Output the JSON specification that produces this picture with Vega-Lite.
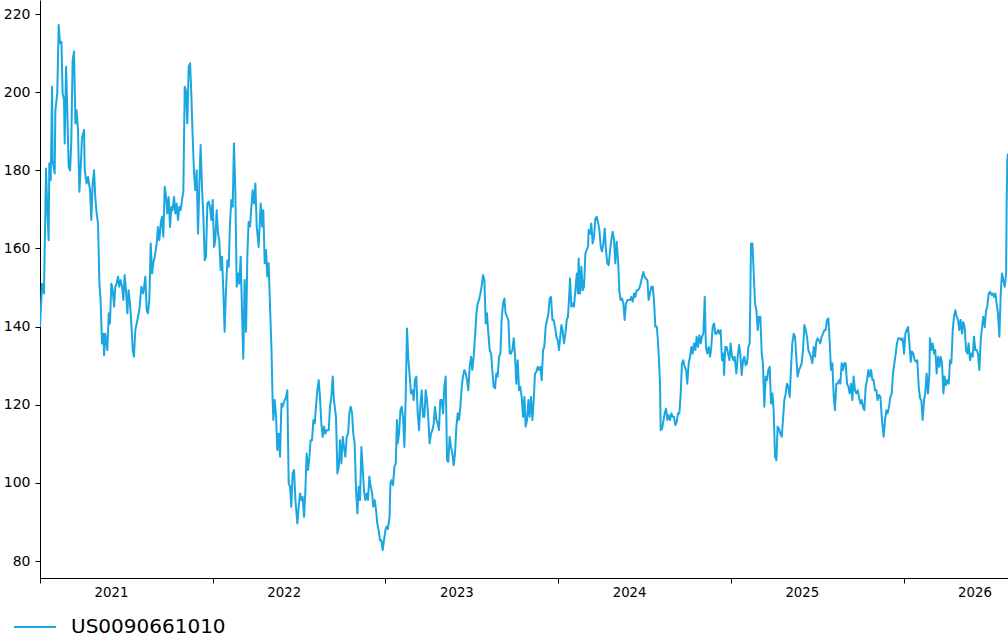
{
  "$schema": "https://vega.github.io/schema/vega-lite/v6.json",
  "width": 968,
  "height": 578,
  "autosize": {"type": "none"},
  "padding": {"left": 40, "top": 0, "right": 0, "bottom": 66},
  "background": "white",
  "config": {
    "view": {"stroke": null},
    "font": "DejaVu Sans",
    "axis": {"labelFont": "DejaVu Sans", "labelFontSize": 13.3, "labelColor": "black", "domainColor": "black", "tickColor": "black", "domainWidth": 1, "tickWidth": 1, "tickSize": 5, "grid": false, "title": null},
    "legend": {"labelFont": "DejaVu Sans", "labelColor": "black"}
  },
  "data": {"values": [
    {"t":2021.000,"v":139.9},{"t":2021.012,"v":151.0},{"t":2021.023,"v":148.5},{"t":2021.031,"v":169.8},{"t":2021.035,"v":180.5},{"t":2021.042,"v":169.8},{"t":2021.050,"v":162.1},{"t":2021.054,"v":181.8},{"t":2021.062,"v":177.5},{"t":2021.070,"v":201.4},{"t":2021.073,"v":182.6},{"t":2021.085,"v":179.2},{"t":2021.089,"v":195.4},{"t":2021.100,"v":199.7},{"t":2021.108,"v":217.2},{"t":2021.116,"v":212.5},{"t":2021.124,"v":212.9},{"t":2021.131,"v":199.7},{"t":2021.139,"v":198.0},{"t":2021.143,"v":186.9},{"t":2021.151,"v":206.5},{"t":2021.158,"v":195.4},{"t":2021.166,"v":180.9},{"t":2021.174,"v":180.0},{"t":2021.181,"v":186.9},{"t":2021.189,"v":208.2},{"t":2021.197,"v":210.4},{"t":2021.205,"v":192.0},{"t":2021.212,"v":195.4},{"t":2021.220,"v":190.3},{"t":2021.228,"v":174.5},{"t":2021.236,"v":180.9},{"t":2021.243,"v":188.2},{"t":2021.255,"v":190.3},{"t":2021.259,"v":180.0},{"t":2021.270,"v":176.6},{"t":2021.278,"v":178.3},{"t":2021.290,"v":174.9},{"t":2021.297,"v":167.3},{"t":2021.305,"v":176.6},{"t":2021.313,"v":180.0},{"t":2021.320,"v":173.2},{"t":2021.328,"v":169.0},{"t":2021.336,"v":166.4},{"t":2021.344,"v":151.0},{"t":2021.351,"v":146.8},{"t":2021.359,"v":135.7},{"t":2021.367,"v":138.2},{"t":2021.371,"v":132.7},{"t":2021.378,"v":138.2},{"t":2021.390,"v":134.0},{"t":2021.398,"v":143.4},{"t":2021.405,"v":140.8},{"t":2021.413,"v":151.0},{"t":2021.421,"v":149.3},{"t":2021.429,"v":145.1},{"t":2021.436,"v":150.2},{"t":2021.444,"v":151.0},{"t":2021.452,"v":152.8},{"t":2021.459,"v":150.2},{"t":2021.467,"v":151.9},{"t":2021.475,"v":150.2},{"t":2021.483,"v":146.8},{"t":2021.490,"v":153.2},{"t":2021.498,"v":149.3},{"t":2021.506,"v":143.4},{"t":2021.513,"v":149.3},{"t":2021.521,"v":145.9},{"t":2021.529,"v":140.8},{"t":2021.537,"v":134.0},{"t":2021.544,"v":132.3},{"t":2021.552,"v":139.1},{"t":2021.564,"v":141.7},{"t":2021.575,"v":144.2},{"t":2021.587,"v":150.2},{"t":2021.598,"v":148.5},{"t":2021.610,"v":152.8},{"t":2021.618,"v":144.2},{"t":2021.625,"v":143.4},{"t":2021.633,"v":146.8},{"t":2021.641,"v":161.3},{"t":2021.649,"v":153.6},{"t":2021.656,"v":156.2},{"t":2021.664,"v":157.9},{"t":2021.676,"v":161.3},{"t":2021.683,"v":165.5},{"t":2021.691,"v":162.1},{"t":2021.699,"v":166.4},{"t":2021.706,"v":168.1},{"t":2021.714,"v":163.0},{"t":2021.722,"v":175.8},{"t":2021.730,"v":173.2},{"t":2021.737,"v":169.0},{"t":2021.745,"v":173.2},{"t":2021.753,"v":165.5},{"t":2021.761,"v":170.7},{"t":2021.768,"v":169.8},{"t":2021.776,"v":173.2},{"t":2021.784,"v":169.0},{"t":2021.791,"v":171.5},{"t":2021.799,"v":167.3},{"t":2021.807,"v":170.7},{"t":2021.815,"v":169.8},{"t":2021.822,"v":172.4},{"t":2021.830,"v":174.5},{"t":2021.838,"v":201.4},{"t":2021.845,"v":200.5},{"t":2021.853,"v":192.0},{"t":2021.861,"v":206.5},{"t":2021.869,"v":207.4},{"t":2021.876,"v":199.7},{"t":2021.884,"v":188.6},{"t":2021.892,"v":179.2},{"t":2021.899,"v":174.9},{"t":2021.907,"v":180.0},{"t":2021.915,"v":163.8},{"t":2021.923,"v":176.6},{"t":2021.930,"v":186.5},{"t":2021.938,"v":175.8},{"t":2021.946,"v":168.1},{"t":2021.954,"v":157.0},{"t":2021.961,"v":157.9},{"t":2021.969,"v":171.5},{"t":2021.977,"v":172.0},
    {"t":2021.984,"v":170.7},{"t":2021.992,"v":167.3},{"t":2022.000,"v":172.4},{"t":2022.008,"v":160.4},{"t":2022.015,"v":162.1},{"t":2022.023,"v":169.8},{"t":2022.031,"v":163.8},{"t":2022.038,"v":162.1},{"t":2022.046,"v":154.5},{"t":2022.054,"v":157.9},{"t":2022.062,"v":148.5},{"t":2022.069,"v":138.7},{"t":2022.077,"v":149.3},{"t":2022.085,"v":157.0},{"t":2022.093,"v":155.3},{"t":2022.100,"v":166.4},{"t":2022.108,"v":172.4},{"t":2022.116,"v":170.7},{"t":2022.123,"v":186.9},{"t":2022.131,"v":174.9},{"t":2022.139,"v":150.2},{"t":2022.147,"v":153.6},{"t":2022.154,"v":151.0},{"t":2022.162,"v":157.9},{"t":2022.170,"v":143.4},{"t":2022.177,"v":131.8},{"t":2022.185,"v":151.9},{"t":2022.193,"v":138.7},{"t":2022.201,"v":158.7},{"t":2022.208,"v":166.8},{"t":2022.216,"v":165.6},{"t":2022.224,"v":170.7},{"t":2022.231,"v":174.9},{"t":2022.239,"v":171.5},{"t":2022.247,"v":176.6},{"t":2022.255,"v":165.6},{"t":2022.266,"v":160.4},{"t":2022.278,"v":171.5},{"t":2022.286,"v":165.6},{"t":2022.293,"v":169.8},{"t":2022.301,"v":156.2},{"t":2022.309,"v":159.6},{"t":2022.316,"v":152.8},{"t":2022.324,"v":156.2},{"t":2022.332,"v":145.1},{"t":2022.340,"v":134.8},{"t":2022.347,"v":121.2},{"t":2022.351,"v":116.1},{"t":2022.359,"v":121.2},{"t":2022.367,"v":116.9},{"t":2022.374,"v":108.4},{"t":2022.382,"v":112.6},{"t":2022.390,"v":106.7},{"t":2022.398,"v":120.3},{"t":2022.405,"v":119.5},{"t":2022.417,"v":121.2},{"t":2022.425,"v":122.0},{"t":2022.432,"v":123.7},{"t":2022.440,"v":99.8},{"t":2022.448,"v":99.0},{"t":2022.455,"v":93.9},{"t":2022.463,"v":102.4},{"t":2022.471,"v":103.3},{"t":2022.479,"v":95.6},{"t":2022.490,"v":89.6},{"t":2022.498,"v":93.9},{"t":2022.506,"v":97.3},{"t":2022.513,"v":95.6},{"t":2022.521,"v":96.4},{"t":2022.529,"v":91.3},{"t":2022.536,"v":97.3},{"t":2022.544,"v":107.5},{"t":2022.552,"v":103.3},{"t":2022.560,"v":106.7},{"t":2022.567,"v":110.9},{"t":2022.575,"v":110.9},{"t":2022.583,"v":116.1},{"t":2022.591,"v":115.2},{"t":2022.598,"v":119.5},{"t":2022.606,"v":123.7},{"t":2022.614,"v":126.3},{"t":2022.621,"v":122.0},{"t":2022.629,"v":115.2},{"t":2022.637,"v":111.8},{"t":2022.645,"v":114.4},{"t":2022.652,"v":112.6},{"t":2022.660,"v":113.5},{"t":2022.672,"v":113.5},{"t":2022.679,"v":119.5},{"t":2022.687,"v":122.0},{"t":2022.695,"v":127.2},{"t":2022.702,"v":121.2},{"t":2022.714,"v":116.9},{"t":2022.722,"v":102.4},{"t":2022.730,"v":104.1},{"t":2022.737,"v":110.9},{"t":2022.745,"v":105.0},{"t":2022.753,"v":111.8},{"t":2022.760,"v":109.2},{"t":2022.768,"v":106.7},{"t":2022.776,"v":111.8},{"t":2022.784,"v":112.6},{"t":2022.791,"v":117.8},{"t":2022.799,"v":119.5},{"t":2022.807,"v":117.8},{"t":2022.814,"v":112.6},{"t":2022.822,"v":110.1},{"t":2022.830,"v":98.1},{"t":2022.838,"v":92.2},{"t":2022.845,"v":99.0},{"t":2022.853,"v":95.6},{"t":2022.861,"v":109.2},{"t":2022.868,"v":104.1},{"t":2022.876,"v":98.1},{"t":2022.884,"v":95.6},{"t":2022.892,"v":97.3},{"t":2022.899,"v":95.6},{"t":2022.907,"v":101.6},{"t":2022.915,"v":99.0},{"t":2022.923,"v":97.3},{"t":2022.930,"v":93.9},{"t":2022.938,"v":95.6},{"t":2022.946,"v":93.0},{"t":2022.953,"v":89.6},{"t":2022.961,"v":87.9},{"t":2022.969,"v":85.3},{"t":2022.977,"v":85.3},{"t":2022.984,"v":82.8},{"t":2022.992,"v":85.3},{"t":2023.000,"v":87.9},{"t":2023.007,"v":88.8},{"t":2023.015,"v":88.2},{"t":2023.024,"v":91.3},
    {"t":2023.029,"v":99.8},{"t":2023.036,"v":100.7},{"t":2023.044,"v":99.4},{"t":2023.052,"v":104.1},{"t":2023.060,"v":105.0},{"t":2023.067,"v":116.1},{"t":2023.071,"v":110.1},{"t":2023.079,"v":112.6},{"t":2023.087,"v":118.6},{"t":2023.094,"v":119.5},{"t":2023.102,"v":116.9},{"t":2023.110,"v":109.2},{"t":2023.117,"v":121.2},{"t":2023.125,"v":139.5},{"t":2023.133,"v":131.4},{"t":2023.141,"v":127.2},{"t":2023.148,"v":122.9},{"t":2023.156,"v":123.7},{"t":2023.164,"v":121.2},{"t":2023.171,"v":126.3},{"t":2023.179,"v":127.2},{"t":2023.187,"v":117.8},{"t":2023.195,"v":113.5},{"t":2023.202,"v":119.5},{"t":2023.210,"v":123.7},{"t":2023.218,"v":116.9},{"t":2023.226,"v":116.9},{"t":2023.233,"v":123.7},{"t":2023.241,"v":121.2},{"t":2023.249,"v":116.1},{"t":2023.256,"v":110.1},{"t":2023.264,"v":112.6},{"t":2023.272,"v":113.5},{"t":2023.280,"v":115.2},{"t":2023.287,"v":119.5},{"t":2023.295,"v":116.1},{"t":2023.303,"v":115.2},{"t":2023.310,"v":113.5},{"t":2023.318,"v":121.2},{"t":2023.326,"v":121.2},{"t":2023.334,"v":117.8},{"t":2023.341,"v":124.6},{"t":2023.349,"v":127.2},{"t":2023.357,"v":105.8},{"t":2023.364,"v":105.4},{"t":2023.372,"v":111.8},{"t":2023.380,"v":109.2},{"t":2023.388,"v":107.5},{"t":2023.395,"v":104.5},{"t":2023.403,"v":107.5},{"t":2023.411,"v":114.4},{"t":2023.419,"v":117.8},{"t":2023.426,"v":116.1},{"t":2023.434,"v":119.5},{"t":2023.442,"v":124.6},{"t":2023.449,"v":127.2},{"t":2023.457,"v":128.9},{"t":2023.465,"v":128.0},{"t":2023.473,"v":126.3},{"t":2023.480,"v":123.7},{"t":2023.488,"v":129.7},{"t":2023.496,"v":132.3},{"t":2023.503,"v":128.9},{"t":2023.511,"v":132.3},{"t":2023.519,"v":137.4},{"t":2023.527,"v":143.4},{"t":2023.534,"v":145.9},{"t":2023.542,"v":146.8},{"t":2023.550,"v":148.5},{"t":2023.557,"v":150.2},{"t":2023.565,"v":153.2},{"t":2023.573,"v":151.9},{"t":2023.581,"v":140.8},{"t":2023.588,"v":143.4},{"t":2023.596,"v":138.2},{"t":2023.604,"v":134.0},{"t":2023.612,"v":133.1},{"t":2023.619,"v":128.9},{"t":2023.627,"v":124.6},{"t":2023.635,"v":124.2},{"t":2023.642,"v":128.0},{"t":2023.650,"v":127.2},{"t":2023.658,"v":132.3},{"t":2023.666,"v":133.1},{"t":2023.673,"v":141.7},{"t":2023.681,"v":145.9},{"t":2023.689,"v":147.2},{"t":2023.696,"v":143.4},{"t":2023.704,"v":142.5},{"t":2023.712,"v":141.7},{"t":2023.720,"v":133.1},{"t":2023.727,"v":133.1},{"t":2023.735,"v":134.0},{"t":2023.743,"v":137.0},{"t":2023.750,"v":133.1},{"t":2023.758,"v":125.4},{"t":2023.766,"v":131.4},{"t":2023.774,"v":123.7},{"t":2023.781,"v":124.6},{"t":2023.789,"v":122.0},{"t":2023.797,"v":116.9},{"t":2023.805,"v":122.0},{"t":2023.812,"v":114.4},{"t":2023.820,"v":116.1},{"t":2023.828,"v":121.2},{"t":2023.835,"v":116.9},{"t":2023.843,"v":122.0},{"t":2023.851,"v":116.1},{"t":2023.859,"v":121.2},{"t":2023.866,"v":128.0},{"t":2023.874,"v":128.4},{"t":2023.882,"v":129.7},{"t":2023.889,"v":128.9},{"t":2023.897,"v":129.7},{"t":2023.905,"v":126.3},{"t":2023.913,"v":134.0},{"t":2023.920,"v":134.8},{"t":2023.928,"v":140.0},{"t":2023.936,"v":141.7},{"t":2023.944,"v":143.4},{"t":2023.951,"v":147.2},{"t":2023.959,"v":147.6},{"t":2023.967,"v":141.7},{"t":2023.974,"v":141.7},{"t":2023.982,"v":140.0},{"t":2023.990,"v":137.4},{"t":2023.998,"v":136.5},{"t":2024.005,"v":134.0},
    {"t":2024.019,"v":140.4},{"t":2024.026,"v":139.1},{"t":2024.034,"v":135.7},{"t":2024.042,"v":138.2},{"t":2024.050,"v":141.7},{"t":2024.057,"v":142.5},{"t":2024.065,"v":148.5},{"t":2024.069,"v":152.3},{"t":2024.077,"v":145.1},{"t":2024.084,"v":145.9},{"t":2024.092,"v":145.1},{"t":2024.100,"v":149.3},{"t":2024.108,"v":153.6},{"t":2024.115,"v":148.5},{"t":2024.119,"v":157.4},{"t":2024.127,"v":148.5},{"t":2024.135,"v":155.3},{"t":2024.142,"v":149.3},{"t":2024.150,"v":150.2},{"t":2024.158,"v":158.7},{"t":2024.165,"v":159.6},{"t":2024.173,"v":160.4},{"t":2024.177,"v":164.7},{"t":2024.185,"v":163.8},{"t":2024.192,"v":166.4},{"t":2024.200,"v":161.3},{"t":2024.208,"v":163.0},{"t":2024.216,"v":167.7},{"t":2024.223,"v":168.1},{"t":2024.231,"v":166.8},{"t":2024.239,"v":164.7},{"t":2024.247,"v":160.4},{"t":2024.254,"v":159.2},{"t":2024.262,"v":161.3},{"t":2024.270,"v":165.1},{"t":2024.277,"v":159.6},{"t":2024.285,"v":156.2},{"t":2024.293,"v":155.7},{"t":2024.301,"v":159.6},{"t":2024.308,"v":162.1},{"t":2024.316,"v":164.3},{"t":2024.324,"v":162.1},{"t":2024.331,"v":156.2},{"t":2024.339,"v":161.7},{"t":2024.347,"v":157.0},{"t":2024.355,"v":148.9},{"t":2024.362,"v":146.8},{"t":2024.370,"v":147.2},{"t":2024.378,"v":145.9},{"t":2024.385,"v":141.7},{"t":2024.393,"v":145.9},{"t":2024.401,"v":146.8},{"t":2024.409,"v":146.8},{"t":2024.416,"v":146.8},{"t":2024.424,"v":147.6},{"t":2024.432,"v":146.4},{"t":2024.440,"v":148.5},{"t":2024.447,"v":147.6},{"t":2024.455,"v":149.3},{"t":2024.463,"v":149.3},{"t":2024.470,"v":149.8},{"t":2024.478,"v":151.0},{"t":2024.486,"v":152.7},{"t":2024.494,"v":154.0},{"t":2024.501,"v":152.7},{"t":2024.509,"v":152.3},{"t":2024.517,"v":151.9},{"t":2024.524,"v":146.8},{"t":2024.532,"v":148.5},{"t":2024.540,"v":150.2},{"t":2024.548,"v":150.2},{"t":2024.555,"v":146.8},{"t":2024.563,"v":140.0},{"t":2024.571,"v":140.0},{"t":2024.578,"v":136.5},{"t":2024.586,"v":129.7},{"t":2024.590,"v":125.4},{"t":2024.594,"v":113.5},{"t":2024.602,"v":113.9},{"t":2024.609,"v":115.6},{"t":2024.617,"v":117.8},{"t":2024.625,"v":119.0},{"t":2024.633,"v":116.1},{"t":2024.640,"v":117.3},{"t":2024.648,"v":116.1},{"t":2024.656,"v":117.8},{"t":2024.663,"v":116.9},{"t":2024.671,"v":116.9},{"t":2024.679,"v":114.8},{"t":2024.687,"v":115.6},{"t":2024.694,"v":117.8},{"t":2024.702,"v":117.8},{"t":2024.710,"v":122.9},{"t":2024.717,"v":130.6},{"t":2024.725,"v":131.4},{"t":2024.733,"v":129.7},{"t":2024.741,"v":128.9},{"t":2024.748,"v":125.4},{"t":2024.756,"v":130.6},{"t":2024.764,"v":132.3},{"t":2024.772,"v":134.8},{"t":2024.779,"v":133.1},{"t":2024.787,"v":135.7},{"t":2024.795,"v":134.0},{"t":2024.802,"v":137.4},{"t":2024.810,"v":134.8},{"t":2024.818,"v":137.8},{"t":2024.826,"v":135.7},{"t":2024.833,"v":137.4},{"t":2024.841,"v":138.2},{"t":2024.849,"v":147.6},{"t":2024.856,"v":134.8},{"t":2024.864,"v":133.1},{"t":2024.872,"v":134.8},{"t":2024.880,"v":132.3},{"t":2024.887,"v":134.8},{"t":2024.895,"v":140.0},{"t":2024.903,"v":140.8},{"t":2024.910,"v":138.2},{"t":2024.918,"v":138.2},{"t":2024.926,"v":139.1},{"t":2024.934,"v":138.2},{"t":2024.941,"v":139.1},{"t":2024.949,"v":131.4},{"t":2024.957,"v":133.1},{"t":2024.961,"v":127.6},{"t":2024.968,"v":134.8},{"t":2024.976,"v":134.8},{"t":2024.984,"v":133.1},{"t":2024.992,"v":131.4},{"t":2024.999,"v":135.7},{"t":2025.007,"v":132.3},{"t":2025.015,"v":131.4},{"t":2025.022,"v":132.3},
    {"t":2025.032,"v":128.0},{"t":2025.040,"v":132.3},{"t":2025.048,"v":135.3},{"t":2025.055,"v":133.1},{"t":2025.063,"v":127.6},{"t":2025.071,"v":131.4},{"t":2025.078,"v":132.3},{"t":2025.086,"v":130.1},{"t":2025.094,"v":130.6},{"t":2025.102,"v":134.8},{"t":2025.109,"v":135.7},{"t":2025.113,"v":147.6},{"t":2025.117,"v":161.3},{"t":2025.125,"v":161.3},{"t":2025.132,"v":154.5},{"t":2025.140,"v":145.9},{"t":2025.148,"v":144.2},{"t":2025.156,"v":139.1},{"t":2025.163,"v":142.5},{"t":2025.171,"v":142.5},{"t":2025.179,"v":133.1},{"t":2025.186,"v":130.6},{"t":2025.194,"v":119.5},{"t":2025.202,"v":127.2},{"t":2025.210,"v":126.3},{"t":2025.217,"v":128.9},{"t":2025.225,"v":129.7},{"t":2025.233,"v":120.3},{"t":2025.241,"v":122.9},{"t":2025.248,"v":118.6},{"t":2025.256,"v":106.7},{"t":2025.264,"v":105.8},{"t":2025.271,"v":114.4},{"t":2025.279,"v":113.9},{"t":2025.287,"v":112.6},{"t":2025.295,"v":111.8},{"t":2025.302,"v":116.1},{"t":2025.310,"v":121.2},{"t":2025.318,"v":122.9},{"t":2025.325,"v":125.4},{"t":2025.333,"v":124.6},{"t":2025.341,"v":122.0},{"t":2025.349,"v":129.7},{"t":2025.356,"v":135.7},{"t":2025.364,"v":138.2},{"t":2025.372,"v":137.4},{"t":2025.379,"v":132.3},{"t":2025.387,"v":127.2},{"t":2025.395,"v":128.9},{"t":2025.403,"v":129.7},{"t":2025.410,"v":130.6},{"t":2025.418,"v":134.0},{"t":2025.426,"v":140.4},{"t":2025.434,"v":139.1},{"t":2025.441,"v":137.4},{"t":2025.449,"v":134.0},{"t":2025.457,"v":133.1},{"t":2025.464,"v":132.3},{"t":2025.472,"v":130.6},{"t":2025.480,"v":134.8},{"t":2025.488,"v":132.3},{"t":2025.495,"v":136.1},{"t":2025.503,"v":137.0},{"t":2025.511,"v":136.5},{"t":2025.518,"v":135.7},{"t":2025.526,"v":137.4},{"t":2025.534,"v":138.2},{"t":2025.542,"v":139.1},{"t":2025.549,"v":139.1},{"t":2025.557,"v":141.7},{"t":2025.565,"v":142.1},{"t":2025.572,"v":136.5},{"t":2025.580,"v":128.9},{"t":2025.588,"v":130.6},{"t":2025.596,"v":122.0},{"t":2025.603,"v":118.6},{"t":2025.611,"v":125.4},{"t":2025.619,"v":125.4},{"t":2025.627,"v":126.3},{"t":2025.634,"v":125.4},{"t":2025.642,"v":130.6},{"t":2025.650,"v":128.9},{"t":2025.657,"v":130.6},{"t":2025.665,"v":130.6},{"t":2025.673,"v":125.4},{"t":2025.681,"v":124.6},{"t":2025.688,"v":122.9},{"t":2025.696,"v":125.4},{"t":2025.704,"v":121.2},{"t":2025.711,"v":127.2},{"t":2025.719,"v":123.7},{"t":2025.727,"v":122.9},{"t":2025.735,"v":123.7},{"t":2025.742,"v":122.0},{"t":2025.750,"v":120.3},{"t":2025.758,"v":121.2},{"t":2025.765,"v":119.5},{"t":2025.773,"v":118.6},{"t":2025.781,"v":124.6},{"t":2025.789,"v":126.3},{"t":2025.796,"v":128.9},{"t":2025.804,"v":127.2},{"t":2025.812,"v":128.9},{"t":2025.820,"v":126.3},{"t":2025.827,"v":126.3},{"t":2025.835,"v":123.7},{"t":2025.843,"v":123.7},{"t":2025.850,"v":121.2},{"t":2025.858,"v":122.5},{"t":2025.866,"v":122.0},{"t":2025.874,"v":116.9},{"t":2025.881,"v":113.5},{"t":2025.885,"v":111.8},{"t":2025.893,"v":116.1},{"t":2025.901,"v":118.6},{"t":2025.908,"v":117.8},{"t":2025.916,"v":119.5},{"t":2025.924,"v":122.0},{"t":2025.932,"v":122.9},{"t":2025.939,"v":128.0},{"t":2025.947,"v":130.6},{"t":2025.955,"v":133.1},{"t":2025.962,"v":135.7},{"t":2025.970,"v":137.0},
    {"t":2025.980,"v":137.0},{"t":2025.987,"v":136.5},{"t":2025.995,"v":137.0},{"t":2026.003,"v":133.1},{"t":2026.011,"v":138.2},{"t":2026.018,"v":139.1},{"t":2026.026,"v":139.9},{"t":2026.034,"v":135.7},{"t":2026.042,"v":131.0},{"t":2026.049,"v":133.6},{"t":2026.057,"v":133.1},{"t":2026.065,"v":131.4},{"t":2026.072,"v":131.0},{"t":2026.080,"v":131.4},{"t":2026.088,"v":124.6},{"t":2026.096,"v":121.6},{"t":2026.103,"v":121.2},{"t":2026.111,"v":116.1},{"t":2026.119,"v":121.2},{"t":2026.126,"v":122.9},{"t":2026.134,"v":128.0},{"t":2026.142,"v":122.9},{"t":2026.150,"v":128.0},{"t":2026.153,"v":137.0},{"t":2026.161,"v":134.0},{"t":2026.169,"v":135.7},{"t":2026.177,"v":133.1},{"t":2026.184,"v":134.0},{"t":2026.192,"v":128.0},{"t":2026.200,"v":132.3},{"t":2026.208,"v":129.7},{"t":2026.215,"v":132.3},{"t":2026.223,"v":130.6},{"t":2026.231,"v":122.9},{"t":2026.238,"v":127.2},{"t":2026.246,"v":125.0},{"t":2026.254,"v":126.3},{"t":2026.262,"v":125.4},{"t":2026.269,"v":131.4},{"t":2026.277,"v":130.6},{"t":2026.285,"v":139.1},{"t":2026.292,"v":142.5},{"t":2026.300,"v":144.2},{"t":2026.308,"v":142.5},{"t":2026.316,"v":141.7},{"t":2026.323,"v":139.1},{"t":2026.331,"v":141.7},{"t":2026.339,"v":138.2},{"t":2026.346,"v":141.2},{"t":2026.354,"v":139.9},{"t":2026.362,"v":134.0},{"t":2026.370,"v":133.1},{"t":2026.377,"v":135.7},{"t":2026.385,"v":131.4},{"t":2026.393,"v":133.1},{"t":2026.401,"v":132.3},{"t":2026.408,"v":137.4},{"t":2026.416,"v":134.0},{"t":2026.424,"v":134.0},{"t":2026.431,"v":133.1},{"t":2026.439,"v":128.9},{"t":2026.447,"v":136.5},{"t":2026.455,"v":139.9},{"t":2026.462,"v":142.5},{"t":2026.470,"v":139.9},{"t":2026.478,"v":144.2},{"t":2026.485,"v":145.1},{"t":2026.493,"v":148.5},{"t":2026.501,"v":148.9},{"t":2026.509,"v":148.1},{"t":2026.516,"v":148.5},{"t":2026.524,"v":147.6},{"t":2026.532,"v":148.5},{"t":2026.539,"v":145.9},{"t":2026.547,"v":143.4},{"t":2026.555,"v":137.4},{"t":2026.563,"v":148.5},{"t":2026.570,"v":153.6},{"t":2026.578,"v":151.9},{"t":2026.586,"v":150.2},{"t":2026.594,"v":153.6},{"t":2026.597,"v":170.7},{"t":2026.601,"v":182.6},{"t":2026.605,"v":184.3}
  ]},
  "mark": {"type": "line", "strokeWidth": 2, "strokeJoin": "round", "clip": true},
  "encoding": {
    "x": {
      "field": "t", "type": "quantitative",
      "scale": {"domain": [2021, 2026.605], "nice": false, "zero": false},
      "axis": {"values": [2021, 2022, 2023, 2024, 2025, 2026], "format": "d", "labelOffset": 71, "labelFlush": false, "labelOverlap": false, "labelPadding": 2}
    },
    "y": {
      "field": "v", "type": "quantitative",
      "scale": {"domain": [75.65, 223.6], "nice": false, "zero": false},
      "axis": {"values": [80, 100, 120, 140, 160, 180, 200, 220], "labelPadding": 5, "labelFontSize": 14}
    },
    "color": {
      "datum": "US0090661010",
      "scale": {"range": ["#1aa7e1"]},
      "legend": {"title": null, "orient": "none", "legendX": -27, "legendY": 605, "padding": 0, "symbolType": "stroke", "symbolSize": 1764, "symbolStrokeWidth": 2, "labelFontSize": 20, "labelOffset": 14}
    }
  }
}
